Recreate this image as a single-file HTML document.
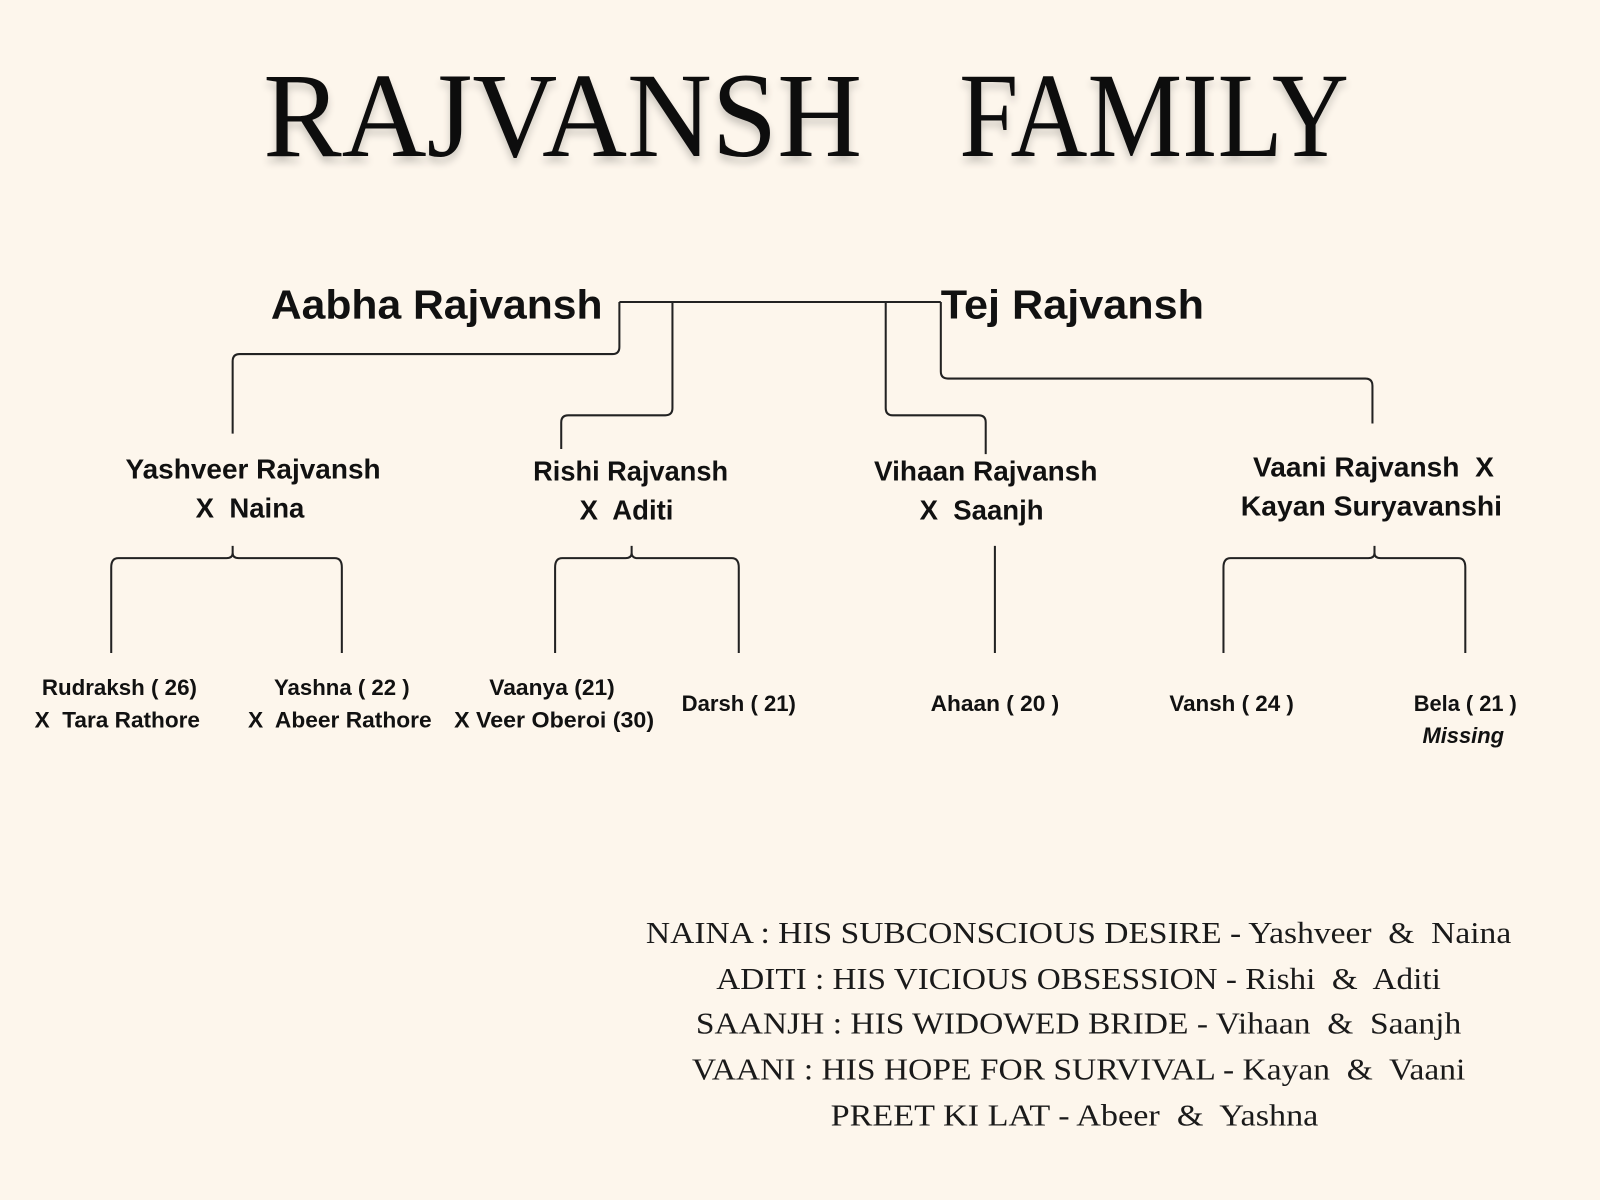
<!DOCTYPE html>
<html><head><meta charset="utf-8"><style>
html,body{margin:0;padding:0;background:#fdf6ec;}
svg{display:block;}
.b{font-family:"Liberation Sans",sans-serif;font-weight:bold;fill:#111;text-anchor:middle;}
.s{font-family:"Liberation Serif",serif;fill:#1a1a1a;text-anchor:middle;}
</style></head><body>
<svg width="1600" height="1200" viewBox="0 0 1568 1176" xmlns="http://www.w3.org/2000/svg">
<defs><filter id="sh" x="-5%" y="-20%" width="110%" height="150%"><feGaussianBlur in="SourceAlpha" stdDeviation="4"/><feOffset dy="6"/><feComponentTransfer><feFuncA type="linear" slope="0.2"/></feComponentTransfer><feMerge><feMergeNode/><feMergeNode in="SourceGraphic"/></feMerge></filter></defs>
<rect width="1568" height="1176" fill="#fdf6ec"/>
<g filter="url(#sh)" class="s" style="text-anchor:start;fill:#111">
<text x="258" y="153" font-size="118" textLength="587" lengthAdjust="spacingAndGlyphs">RAJVANSH</text>
<text x="940" y="153" font-size="118" textLength="382" lengthAdjust="spacingAndGlyphs">FAMILY</text>
</g>
<text class="b" x="428" y="312" font-size="40" textLength="325" lengthAdjust="spacingAndGlyphs">Aabha Rajvansh</text>
<text class="b" x="1051" y="312" font-size="40" textLength="258" lengthAdjust="spacingAndGlyphs">Tej Rajvansh</text>
<g fill="none" stroke="#222" stroke-width="2">
<path d="M607 296 H922"/>
<path d="M607 296 V340 Q607 347 600 347 H235 Q228 347 228 354 V425"/>
<path d="M659 296 V400 Q659 407 652 407 H557 Q550 407 550 414 V440"/>
<path d="M868 296 V400 Q868 407 875 407 H959 Q966 407 966 414 V445"/>
<path d="M922 296 V364 Q922 371 929 371 H1338 Q1345 371 1345 378 V415"/>
<path d="M228 535 V542 Q228 547 222 547 H116 Q109 547 109 556 V640 M228 542 Q228 547 234 547 H328 Q335 547 335 556 V640"/>
<path d="M619 535 V542 Q619 547 613 547 H551 Q544 547 544 556 V640 M619 542 Q619 547 625 547 H717 Q724 547 724 556 V640"/>
<path d="M975 535 V640"/>
<path d="M1347 535 V542 Q1347 547 1341 547 H1206 Q1199 547 1199 556 V640 M1347 542 Q1347 547 1353 547 H1429 Q1436 547 1436 556 V640"/>
</g>
<g class="b" font-size="27">
<text x="248" y="469" textLength="250" lengthAdjust="spacingAndGlyphs">Yashveer Rajvansh</text>
<text x="245" y="507">X&#160; Naina</text>
<text x="618" y="471" textLength="191" lengthAdjust="spacingAndGlyphs">Rishi Rajvansh</text>
<text x="614" y="509">X&#160; Aditi</text>
<text x="966" y="471" textLength="219" lengthAdjust="spacingAndGlyphs">Vihaan Rajvansh</text>
<text x="962" y="509">X&#160; Saanjh</text>
<text x="1346" y="467" textLength="236" lengthAdjust="spacingAndGlyphs">Vaani Rajvansh&#160; X</text>
<text x="1344" y="505" textLength="256" lengthAdjust="spacingAndGlyphs">Kayan Suryavanshi</text>
</g>
<g class="b" font-size="21.5">
<text x="117" y="681" textLength="152" lengthAdjust="spacingAndGlyphs">Rudraksh ( 26)</text>
<text x="115" y="713" textLength="162" lengthAdjust="spacingAndGlyphs">X&#160; Tara Rathore</text>
<text x="335" y="681" textLength="133" lengthAdjust="spacingAndGlyphs">Yashna ( 22 )</text>
<text x="333" y="713" textLength="180" lengthAdjust="spacingAndGlyphs">X&#160; Abeer Rathore</text>
<text x="541" y="681" textLength="123" lengthAdjust="spacingAndGlyphs">Vaanya (21)</text>
<text x="543" y="713" textLength="196" lengthAdjust="spacingAndGlyphs">X Veer Oberoi (30)</text>
<text x="724" y="697" textLength="112" lengthAdjust="spacingAndGlyphs">Darsh ( 21)</text>
<text x="975" y="697" textLength="126" lengthAdjust="spacingAndGlyphs">Ahaan ( 20 )</text>
<text x="1207" y="697" textLength="122" lengthAdjust="spacingAndGlyphs">Vansh ( 24 )</text>
<text x="1436" y="697" textLength="101" lengthAdjust="spacingAndGlyphs">Bela ( 21 )</text>
<text x="1434" y="728" font-style="italic" textLength="80" lengthAdjust="spacingAndGlyphs">Missing</text>
</g>
<g class="s" font-size="30">
<text x="1057" y="924" textLength="848" lengthAdjust="spacingAndGlyphs">NAINA : HIS SUBCONSCIOUS DESIRE - Yashveer&#160; &amp;&#160; Naina</text>
<text x="1057" y="969" textLength="710" lengthAdjust="spacingAndGlyphs">ADITI : HIS VICIOUS OBSESSION - Rishi&#160; &amp;&#160; Aditi</text>
<text x="1057" y="1013" textLength="750" lengthAdjust="spacingAndGlyphs">SAANJH : HIS WIDOWED BRIDE - Vihaan&#160; &amp;&#160; Saanjh</text>
<text x="1057" y="1058" textLength="758" lengthAdjust="spacingAndGlyphs">VAANI : HIS HOPE FOR SURVIVAL - Kayan&#160; &amp;&#160; Vaani</text>
<text x="1053" y="1103" textLength="478" lengthAdjust="spacingAndGlyphs">PREET KI LAT - Abeer&#160; &amp;&#160; Yashna</text>
</g>
</svg>
</body></html>
